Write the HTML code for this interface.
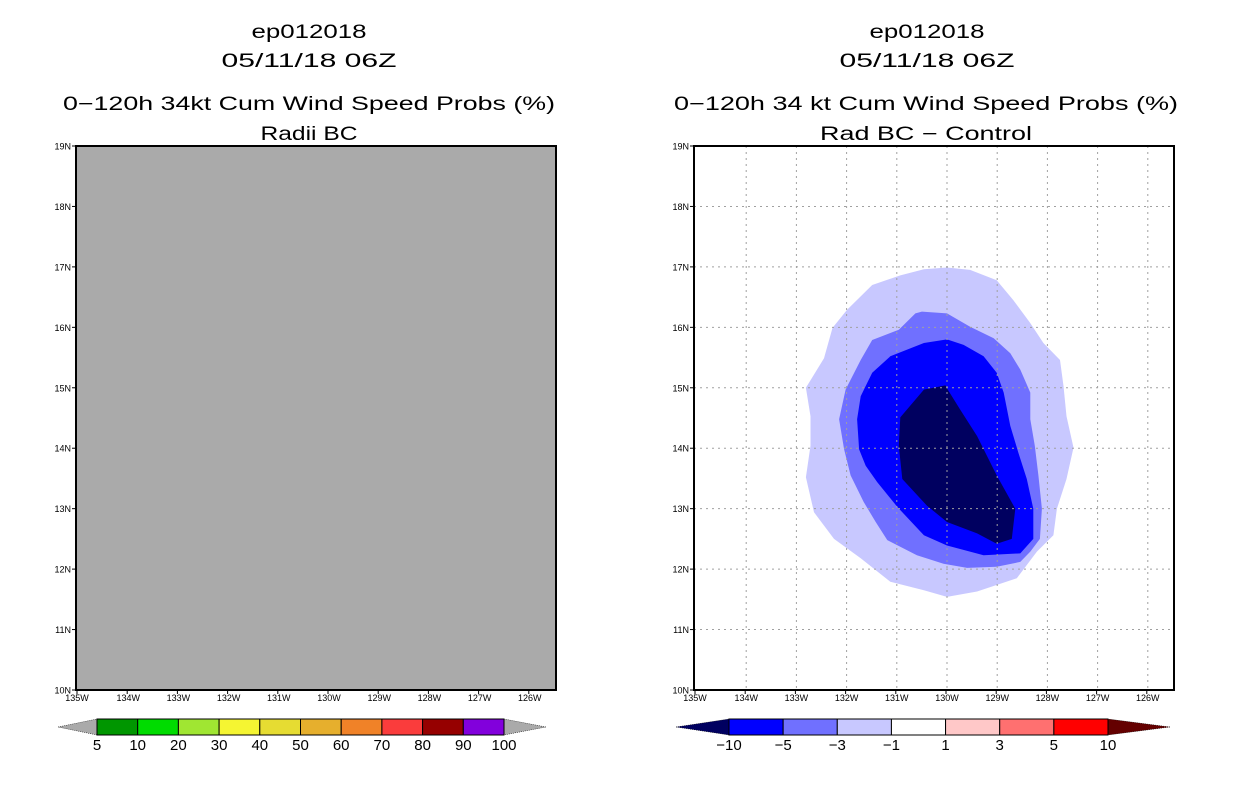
<!DOCTYPE html>
<html><head><meta charset="utf-8"><style>
html,body{margin:0;padding:0;background:#fff;}
svg{display:block;}
text{font-family:"Liberation Sans",sans-serif;fill:#000;}
</style></head><body>
<svg id="chart" width="1236" height="800" viewBox="0 0 1236 800" xmlns="http://www.w3.org/2000/svg">
<rect width="1236" height="800" fill="#fff"/>
<g>
<text x="309" y="38" text-anchor="middle" font-size="19" textLength="115" lengthAdjust="spacingAndGlyphs">ep012018</text>
<text x="309" y="67" text-anchor="middle" font-size="19" textLength="175" lengthAdjust="spacingAndGlyphs">05/11/18 06Z</text>
<text x="309" y="110" text-anchor="middle" font-size="19" textLength="492" lengthAdjust="spacingAndGlyphs">0−120h 34kt Cum Wind Speed Probs (%)</text>
<text x="309" y="140" text-anchor="middle" font-size="19" textLength="97" lengthAdjust="spacingAndGlyphs">Radii BC</text>
</g>
<g>
<text x="927" y="38" text-anchor="middle" font-size="19" textLength="115" lengthAdjust="spacingAndGlyphs">ep012018</text>
<text x="927" y="67" text-anchor="middle" font-size="19" textLength="175" lengthAdjust="spacingAndGlyphs">05/11/18 06Z</text>
<text x="926" y="110" text-anchor="middle" font-size="19" textLength="504" lengthAdjust="spacingAndGlyphs">0−120h 34 kt Cum Wind Speed Probs (%)</text>
<text x="926" y="140" text-anchor="middle" font-size="19" textLength="212" lengthAdjust="spacingAndGlyphs">Rad BC − Control</text>
</g>
<g id="left"></g>
<g id="right"></g>
<g id="cbars"></g>
</svg>
<script>
const lonTicks = [135,134,133,132,131,130,129,128,127,126];
const latTicks = [19,18,17,16,15,14,13,12,11,10];
const leftBarLabels = ["5","10","20","30","40","50","60","70","80","90","100"];
const leftBarColors = ["#009600","#00dc00","#a0e632","#f5f532","#e6dc32","#e6af2d","#f08228","#fa3c3c","#960000","#8200dc"];
const rightBarLabels = ["−10","−5","−3","−1","1","3","5","10"];
const rightBarColors = ["#0000ff","#7070ff","#c8c8ff","#ffffff","#ffc8c8","#ff7070","#ff0000"];
const outerLon = [130.0,130.46,130.93,131.49,131.99,132.28,132.45,132.81,132.72,132.72,132.81,132.65,132.25,131.72,131.13,130.46,130.0,129.40,128.61,128.21,127.88,127.81,127.62,127.48,127.62,127.68,127.75,128.08,128.34,128.68,129.01,129.54];
const outerLat = [16.99,16.96,16.86,16.70,16.29,15.99,15.49,15.0,14.53,14.04,13.52,12.94,12.50,12.18,11.79,11.65,11.54,11.63,11.85,12.29,12.56,13.0,13.49,14.01,14.53,15.03,15.46,15.74,16.07,16.45,16.78,16.95];
const midLon = [130.50,130.0,129.54,129.07,128.74,128.54,128.34,128.34,128.25,128.18,128.11,128.15,128.34,128.54,129.01,129.60,130.07,130.60,131.19,131.42,131.66,131.92,132.05,132.15,132.02,131.72,131.49,130.96,130.63];
const midLat = [16.26,16.23,16.01,15.82,15.57,15.30,14.92,14.48,14.04,13.55,13.0,12.50,12.29,12.12,12.04,12.02,12.09,12.23,12.48,12.78,13.11,13.55,13.98,14.48,14.97,15.46,15.79,15.96,16.23];
const blueLon = [130.0,130.46,131.13,131.49,131.72,131.79,131.75,131.62,131.39,130.99,130.46,130.0,129.27,128.54,128.28,128.28,128.41,128.58,128.74,128.87,129.01,129.27,129.67];
const blueLat = [15.80,15.74,15.52,15.25,14.86,14.48,13.98,13.71,13.44,13.03,12.56,12.39,12.23,12.26,12.50,13.0,13.49,13.93,14.37,14.92,15.25,15.52,15.71];
const coreLon = [130.03,130.46,130.93,130.96,130.89,130.40,130.0,129.40,129.01,128.71,128.64,129.01,129.40,129.74,130.0];
const coreLat = [15.04,14.97,14.51,14.04,13.49,13.05,12.78,12.59,12.42,12.50,13.0,13.55,14.20,14.64,14.99];

const NS="http://www.w3.org/2000/svg";
function mk(tag,attrs,parent){const e=document.createElementNS(NS,tag);for(const k in attrs)e.setAttribute(k,attrs[k]);parent.appendChild(e);return e;}
const TOP=146,BOT=690,DEGX=50.2;
function yOf(lat){return TOP+(19-lat)*(BOT-TOP)/9;}
function xOf(x0,lon){return x0+(135-lon)*DEGX;}

function panel(g,x0,grid){
  const x1=x0+480;
  if(!grid){
    const bg=mk('rect',{x:x0,y:TOP,width:480,height:BOT-TOP,fill:'#aaaaaa'},g);
    
    
  }
  return x1;
}
function axes(g,x0){
  const x1=x0+480;
  latTicks.forEach(l=>{
    const y=yOf(l);
    mk('line',{x1:x0-4,y1:y,x2:x0,y2:y,stroke:'#000','stroke-width':1},g);
    const t=mk('text',{x:x0-5,y:y+3.5,'font-size':9,'text-anchor':'end'},g);
    t.textContent=l+'N';
    
    
  });
  lonTicks.forEach(l=>{
    const x=xOf(x0+1,l);
    mk('line',{x1:x,y1:BOT,x2:x,y2:BOT+4,stroke:'#000','stroke-width':1},g);
    const t=mk('text',{x:x+(l===135?0:1),y:BOT+11,'font-size':9,'text-anchor':'middle'},g);
    t.textContent=l+'W';
    
    
  });
  const fr=mk('rect',{x:x0,y:TOP,width:480,height:BOT-TOP,fill:'none',stroke:'#000','stroke-width':2},g);
  
  
}
function poly(g,x0,lons,lats,color,name){
  const pts=lons.map((lo,i)=>xOf(x0,lo).toFixed(1)+','+yOf(lats[i]).toFixed(1)).join(' ');
  const p=mk('polygon',{points:pts,fill:color},g);
  
  
}

const L=document.getElementById('left'),R=document.getElementById('right');
panel(L,76,false); axes(L,76);

const RX=694;
poly(R,RX+2,outerLon,outerLat,'#c8c8ff','contour-minus1-to-minus3');
poly(R,RX+2,midLon,midLat,'#7070ff','contour-minus3-to-minus5');
poly(R,RX+2,blueLon,blueLat,'#0000ff','contour-minus5-to-minus10');
poly(R,RX+2,coreLon,coreLat,'#000060','contour-below-minus10');
lonTicks.slice(1).forEach(l=>{const x=xOf(RX+2,l);
  const gl=mk('line',{x1:x,y1:TOP,x2:x,y2:BOT,stroke:'#a0a0a0','stroke-width':1,'stroke-dasharray':'2,4'},R);
  
  });
latTicks.slice(1,-1).forEach(l=>{const y=yOf(l);
  const gl=mk('line',{x1:RX,y1:y,x2:RX+480,y2:y,stroke:'#a0a0a0','stroke-width':1,'stroke-dasharray':'2,4'},R);
  
  });
axes(R,RX);

const C=document.getElementById('cbars');
function cbar(x0,x1,tipL,tipR,colors,labels,lc,rc,name){
  const g=mk('g',{},C);
  
  
  const y0=719,y1=735,w=(x1-x0)/colors.length;
  mk('polygon',{points:`${tipL},727 ${x0},${y0} ${x0},${y1}`,fill:lc,stroke:'#000','stroke-width':0.5,'stroke-dasharray':'1,1'},g);
  mk('polygon',{points:`${tipR},727 ${x1},${y0} ${x1},${y1}`,fill:rc,stroke:'#000','stroke-width':0.5,'stroke-dasharray':'1,1'},g);
  colors.forEach((c,i)=>{
    const r=mk('rect',{x:x0+i*w,y:y0,width:w,height:y1-y0,fill:c,stroke:'#000','stroke-width':1},g);
    
    
  });
  const off=labels.length===colors.length+1?0:1;
  labels.forEach((lb,i)=>{
    const t=mk('text',{x:x0+(i+off)*w,y:750,'font-size':15,'text-anchor':'middle'},g);
    t.textContent=lb;
    
    
  });
}
cbar(97,504,58,546,leftBarColors,leftBarLabels,'#aaaaaa','#aaaaaa','left-colorbar');
cbar(729,1108,676,1170,rightBarColors,rightBarLabels,'#000060','#640000','right-colorbar');
</script>
</body></html>
